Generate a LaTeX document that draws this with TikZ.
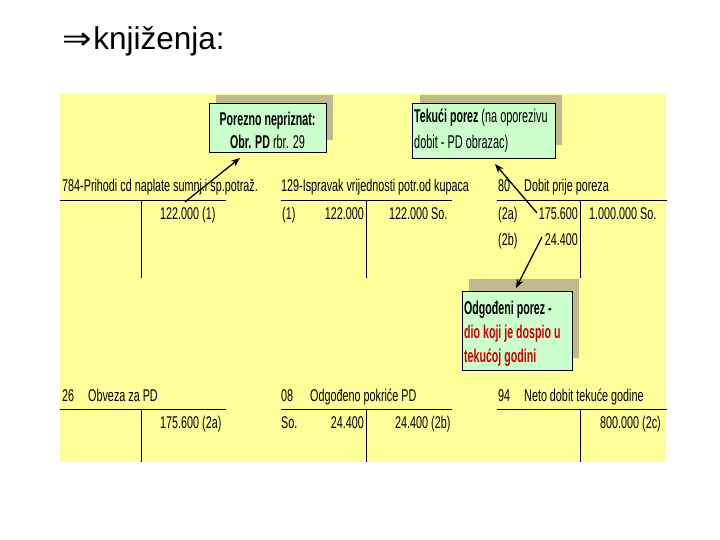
\documentclass[tikz,border=0pt]{standalone}
\usepackage{fontspec}
\setmainfont{Liberation Sans}
\newfontfamily\nar[FakeStretch=0.635]{Liberation Sans}
\newfontfamily\narr[FakeStretch=0.59]{Liberation Sans}
\newfontfamily\narb[FakeStretch=0.575]{Liberation Sans}
\newfontfamily\arrfont{DejaVu Sans}
\usetikzlibrary{arrows.meta}
\definecolor{bgyellow}{HTML}{FFFF99}
\definecolor{boxgreen}{HTML}{CCFFCC}
\definecolor{shadowkhaki}{HTML}{BFB98C}
\definecolor{notered}{HTML}{CC0000}
\newcommand{\bx}[1]{{\narb\bfseries #1}}
\newcommand{\rx}[1]{{\narr #1}}
\begin{document}
\begin{tikzpicture}[x=1pt,y=-1pt,
  lbl/.style={inner sep=0pt, anchor=base west, font=\nar\fontsize{17}{20}\selectfont},
  lblr/.style={lbl, anchor=base east},
  notetxt/.style={inner sep=0pt, anchor=base west, font=\narr\fontsize{18.5}{22}\selectfont},
  notetxtc/.style={notetxt, anchor=base},
  rule/.style={line width=1.4pt},
  vrule/.style={line width=0.9pt},
  note/.style={draw=black, line width=0.6pt, fill=boxgreen, inner sep=0pt},
  shade/.style={fill=shadowkhaki},
  pointer/.style={line width=1.3pt, -{Stealth[length=9pt,width=7pt]}}
]
\useasboundingbox (0,0) rectangle (720,540);
% title
\node[anchor=base west, inner sep=0pt, font=\fontsize{31.5}{36}\selectfont] (title) at (62,50)
  {{\arrfont\scalebox{1.12}[1]{⇒}}\hspace{1.5pt}knjiženja:};
% background
\fill[bgyellow] (60,94) rectangle (666,462);

% note boxes with shadows
\fill[shade] (216,95) rectangle (333,140);
\node[note, anchor=north west, minimum width=117pt, minimum height=49pt] (nepriznat) at (209,103) {};
\node[notetxtc] (nep1) at (267.5,126) {\bx{Porezno nepriznat:}};
\node[notetxtc] (nep2) at (267.5,149) {\bx{Obr. PD}\rx{ rbr. 29}};

\fill[shade] (420,95) rectangle (562,145);
\node[note, anchor=north west, minimum width=143pt, minimum height=55pt] (tekuci) at (412,103) {};
\node[notetxt] (tek1) at (414,123) {\bx{Tekući porez}\rx{ (na oporezivu}};
\node[notetxt] (tek2) at (414,149) {\rx{dobit - PD obrazac)}};

\fill[shade] (469,279) rectangle (579,358);
\node[note, anchor=north west, minimum width=110pt, minimum height=79pt] (odgodeni) at (462,291) {};
\node[notetxt] (odg1) at (464,314) {\bx{Odgođeni porez -}};
\node[notetxt, text=notered] (odg2) at (464,338) {\bx{dio koji je dospio u}};
\node[notetxt, text=notered] (odg3) at (464,362) {\bx{tekućoj godini}};

% account 784
\node[lbl] (h784) at (62,192) {784-Prihodi cd naplate sumnj.i sp.potraž.};
\draw[rule] (60,200.5) -- (226,200.5);
\draw[vrule] (141,200.5) -- (141,278);
\node[lbl] (e784) at (160,219) {122.000 (1)};
% account 129
\node[lbl] (h129) at (281,192) {129-Ispravak vrijednosti potr.od kupaca};
\draw[rule] (281,200.5) -- (452,200.5);
\draw[vrule] (366,200.5) -- (366,278);
\node[lbl] (d129a) at (282,219) {(1)};
\node[lblr] (d129b) at (364,219) {122.000};
\node[lbl] (c129) at (389,219) {122.000 So.};
% account 80
\node[lbl] (n80) at (498,192) {80};
\node[lbl] (h80) at (524,192) {Dobit prije poreza};
\draw[rule] (497,200.5) -- (667,200.5);
\draw[vrule] (580,200.5) -- (580,278);
\node[lbl] (r2a) at (498,219) {(2a)};
\node[lblr] (v2a) at (578,219) {175.600};
\node[lbl] (c80) at (589,219) {1.000.000 So.};
\node[lbl] (r2b) at (498,245) {(2b)};
\node[lblr] (v2b) at (578,245) {24.400};
% account 26
\node[lbl] (n26) at (62,401) {26};
\node[lbl] (h26) at (88,401) {Obveza za PD};
\draw[rule] (60,409.5) -- (226,409.5);
\draw[vrule] (141,409.5) -- (141,462);
\node[lbl] (c26) at (160,428) {175.600 (2a)};
% account 08
\node[lbl] (n08) at (281,401) {08};
\node[lbl] (h08) at (310,401) {Odgođeno pokriće PD};
\draw[rule] (281,409.5) -- (452,409.5);
\draw[vrule] (366,409.5) -- (366,462);
\node[lbl] (d08a) at (281,428) {So.};
\node[lblr] (d08b) at (364,428) {24.400};
\node[lbl] (c08) at (395,428) {24.400 (2b)};
% account 94
\node[lbl] (n94) at (498,401) {94};
\node[lbl] (h94) at (524,401) {Neto dobit tekuće godine};
\draw[rule] (497,409.5) -- (667,409.5);
\draw[vrule] (580,409.5) -- (580,462);
\node[lblr] (c94) at (661,428) {800.000 (2c)};

% pointers
\coordinate (p1s) at (185,202);
\coordinate (p1e) at (240,158);
\coordinate (p2s) at (537,213);
\coordinate (p2e) at (495,164);
\coordinate (p3s) at (542,237);
\coordinate (p3e) at (516,288);
\draw[pointer] (p1s) -- (p1e);
\draw[pointer] (p2s) -- (p2e);
\draw[pointer] (p3s) -- (p3e);
\end{tikzpicture}
\end{document}
